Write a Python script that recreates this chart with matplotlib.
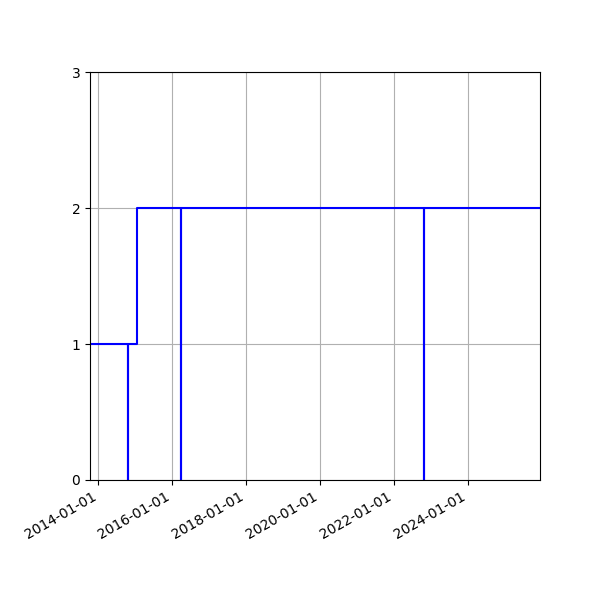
import numpy as np
import matplotlib
matplotlib.use("Agg")
import matplotlib.pyplot as plt
import matplotlib.dates as mdates

# step series: level drops to 0 for an instant at a few dates
dates = np.array(["2013-10-10", "2014-10-18", "2014-10-18", "2015-01-14",
                  "2016-03-27", "2016-03-31", "2022-10-22", "2022-10-22",
                  "2025-12-12"], dtype="datetime64[D]")
values = [1, 0, 1, 2, 0, 2, 0, 2, 2]

x_start = np.datetime64("2013-10-10")
x_end = np.datetime64("2025-12-12")
y_ticks = [0, 1, 2, 3]

fig, ax = plt.subplots(figsize=(6, 6), dpi=100)
ax.plot(dates, values, color="b", drawstyle="steps-post")

ax.set_xlim(x_start, x_end)
ax.set_ylim(0, 3)
ax.set_yticks(y_ticks)
ax.xaxis.set_major_locator(mdates.YearLocator(2))
ax.xaxis.set_major_formatter(mdates.DateFormatter("%Y-%m-%d"))
ax.grid(True)
fig.autofmt_xdate()
fig.subplots_adjust(left=0.15, right=0.9, top=0.88, bottom=0.2)

fig.savefig("out.png", dpi=100)
